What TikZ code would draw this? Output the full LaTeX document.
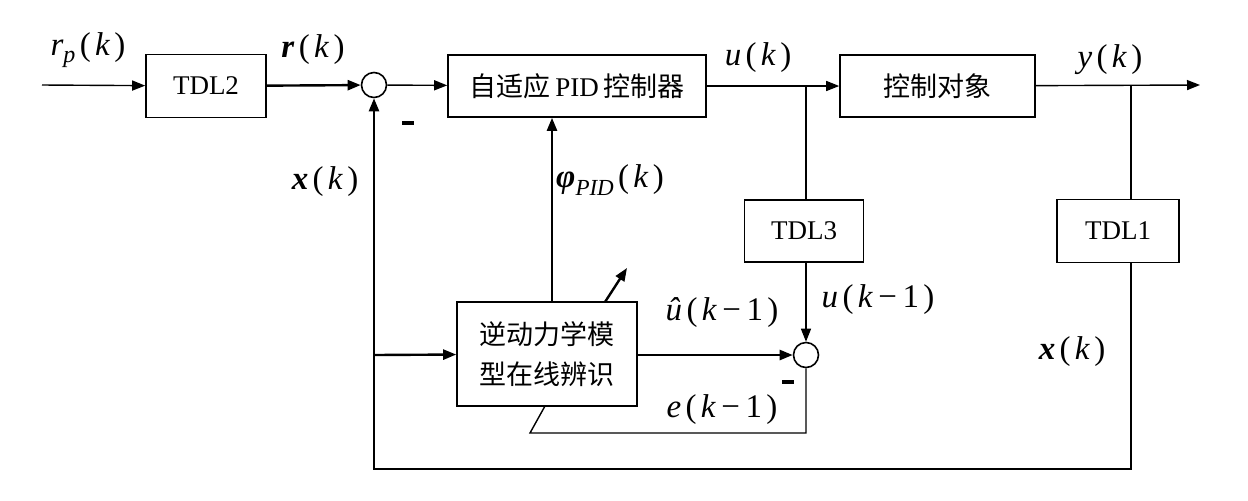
\documentclass[tikz,border=0pt]{standalone}
\usepackage{fontspec}
\setmainfont{Liberation Serif}
\newfontfamily\cjk{Noto Sans CJK SC}
\usetikzlibrary{arrows.meta}
\newcommand\gp{\hspace{0.13em}}
\begin{document}
\begin{tikzpicture}[x=0.5pt,y=-0.5pt,
  blk/.style={draw,line width=0.8pt,inner sep=0pt,font=\fontsize{13.5}{16}\selectfont},
  sumc/.style={draw,circle,line width=0.8pt,minimum size=12.5pt,inner sep=0pt},
  thk/.style={line width=1.2pt},
  thn/.style={line width=0.7pt},
  arr/.style={-{Triangle[length=6.5pt,width=5pt]}},
  lbl/.style={font=\fontsize{16.5}{19}\selectfont,inner sep=0pt}]
\useasboundingbox (0,0) rectangle (1248,500);
% blocks
\node[blk,minimum width=60pt,minimum height=31.5pt] (tdl2) at (206,86) {TDL2};
\node[blk,minimum width=129pt,minimum height=31pt] (pid) at (577,86) {{\cjk 自适应}\,PID\,{\cjk 控制器}};
\node[blk,minimum width=97.5pt,minimum height=31pt] (plant) at (937.5,86) {\cjk 控制对象};
\node[blk,minimum width=59.5pt,minimum height=31pt] (tdl3) at (804,231) {TDL3};
\node[blk,minimum width=61pt,minimum height=31.5pt] (tdl1) at (1118,231) {TDL1};
\node[blk,minimum width=90pt,minimum height=52pt,align=center,font=\fontsize{13.5}{20}\selectfont\cjk] (inv) at (547,354) {逆动力学模\\型在线辨识};
\node[sumc] (c1) at (374,85) {};
\node[sumc] (c2) at (806,355) {};
% coordinates
\coordinate (in) at (42,85);
\coordinate (out) at (1200,85);
\coordinate (b1) at (806,85);
\coordinate (b2) at (1131,85);
\coordinate (fb1) at (1131,469);
\coordinate (fb2) at (374,469);
\coordinate (fbx) at (374,355);
\coordinate (phi) at (552,302);
\coordinate (e1) at (806,433);
\coordinate (e2) at (530,433);
\coordinate (e3) at (545,406);
\coordinate (ad1) at (605,302);
\coordinate (ad2) at (627,268);
% connectors
\draw[thn,arr] (in) -- (tdl2);
\draw[thk,arr] (tdl2) -- (c1);
\draw[thn,arr] (c1) -- (pid);
\draw[thn,arr] (pid) -- (plant);
\draw[thn,arr] (plant) -- (out);
\draw[thn] (b1) -- (b1 |- tdl3.north);
\draw[thn] (b2) -- (b2 |- tdl1.north);
\draw[thk,arr] (b2 |- tdl1.south) -- (fb1) -- (fb2) -- (c1);
\draw[thk,arr] (fbx) -- (inv);
\draw[thk,arr] (phi) -- (phi |- pid.south);
\draw[thn,arr] (tdl3.south -| c2) -- (c2);
\draw[thk,arr] (inv.east |- c2) -- (c2);
\draw[thn] (c2) -- (e1) -- (e2) -- (e3);
\draw[thk,arr] (ad1) -- (ad2);
% minus signs
\draw[line width=2pt] (402,123) -- (414,123);
\draw[line width=2pt] (782,382) -- (794,382);
% labels
\node[lbl] (lrp) at (88,50) {\textit{r}\raisebox{-0.45ex}{\fontsize{12}{12}\selectfont\textit{p}}\gp(\gp\textit{k}\gp)};
\node[lbl] (lr) at (313,50) {\textbf{\textit{r}}\gp(\gp\textit{k}\gp)};
\node[lbl] (lxl) at (325,182) {\textbf{\textit{x}}\gp(\gp\textit{k}\gp)};
\node[lbl] (lphi) at (610,180) {\textbf{\textit{φ}}\raisebox{-0.5ex}{\fontsize{11.5}{12}\selectfont\textit{PID}}\gp(\gp\textit{k}\gp)};
\node[lbl] (lu) at (758,58) {\textit{u}\gp(\gp\textit{k}\gp)};
\node[lbl] (ly) at (1110,60) {\textit{y}\gp(\gp\textit{k}\gp)};
\node[lbl] (lu1) at (878,300) {\textit{u}\gp(\gp\textit{k}\,−\,1\gp)};
\node[lbl] (luh) at (722,313) {\textit{û}\gp(\gp\textit{k}\,−\,1\gp)};
\node[lbl] (le) at (722,410) {\textit{e}\gp(\gp\textit{k}\,−\,1\gp)};
\node[lbl] (lxr) at (1072,352) {\textbf{\textit{x}}\gp(\gp\textit{k}\gp)};
\end{tikzpicture}
\end{document}
